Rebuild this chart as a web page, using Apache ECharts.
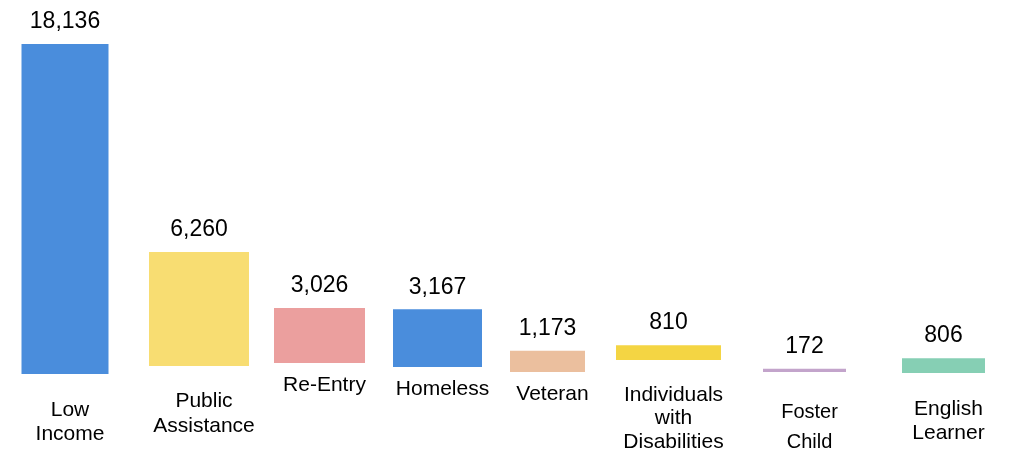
<!DOCTYPE html>
<html>
<head>
<meta charset="utf-8">
<script src="https://cdn.jsdelivr.net/npm/echarts@6/dist/echarts.min.js"></script>
<style>
html,body{margin:0;padding:0;background:#fff;}
#chart{width:1014px;height:450px;}
</style>
</head>
<body>
<div id="chart"></div>
<script>
// ---- data ----
const categories = ["Low\nIncome", "Public\nAssistance", "Re-Entry", "Homeless", "Veteran", "Individuals\nwith\nDisabilities", "Foster\nChild", "English\nLearner"];
const values = [18136, 6260, 3026, 3167, 1173, 810, 172, 806];

// ---- styles (pixel styling of the hand-laid-out infographic) ----
const colors = ["#4a8ddc", "#f8dd72", "#eb9f9e", "#4a8ddc", "#ebbf9e", "#f4d543", "#c3a4cb", "#86cfb4"];
const barWidths = [87, 100, 91, 89, 75, 105, 83, 83];
const nudgeX = [-2.5, 8.5, 6, 1, -12, -14, -1, 15];
const baseShift = [0, -8, -11, -7, -2, -14, -2, -1];
const labelGap = [42, 41, 28, 28, 28, 40.7, 45.7, 41.7];
const labelLineHeight = [24, 24.4, 24, 24, 24, 23.5, 30, 24];
const labelFontSize = [21, 21, 21, 21, 21, 21, 20, 21];
const labelShiftX = 5;
const valueFontSize = 23;
const MID = 0.27;
const FONT = '"Liberation Sans", Arial, sans-serif';

const chart = echarts.init(document.getElementById('chart'), null, {renderer: 'canvas'});
chart.setOption({
  animation: false,
  grid: {left: 6, right: 24, top: 44, bottom: 76},
  xAxis: {type: 'category', data: categories, show: false},
  yAxis: {type: 'value', min: 0, max: function (v) { return v.max; }, show: false},
  series: [{
    type: 'custom',
    clip: false,
    data: values.map(function (v, i) { return [i, v]; }),
    encode: {x: 0, y: 1},
    renderItem: function (params, api) {
      const i = params.dataIndex;
      const v = api.value(1);
      const base = api.coord([i, 0]);
      const top = api.coord([i, v]);
      const cx = base[0] + nudgeX[i];
      const bottom = base[1] + baseShift[i];
      const topY = top[1] + baseShift[i];
      const w = barWidths[i];
      const F = labelFontSize[i];
      const L = labelLineHeight[i];
      const firstCenter = bottom + labelGap[i] - MID * F;
      return {
        type: 'group',
        children: [
          {
            type: 'rect',
            shape: {x: cx - w / 2, y: topY, width: w, height: bottom - topY},
            style: {fill: colors[i]}
          },
          {
            type: 'text',
            x: cx,
            y: topY - 16 - MID * valueFontSize,
            style: {
              text: v.toLocaleString('en-US'),
              font: valueFontSize + 'px ' + FONT,
              fill: '#000',
              align: 'center',
              verticalAlign: 'middle'
            }
          },
          {
            type: 'text',
            x: cx + labelShiftX,
            y: firstCenter - L / 2,
            style: {
              text: categories[i],
              font: F + 'px ' + FONT,
              lineHeight: L,
              fill: '#000',
              align: 'center',
              verticalAlign: 'top'
            }
          }
        ]
      };
    }
  }]
});
</script>
</body>
</html>
